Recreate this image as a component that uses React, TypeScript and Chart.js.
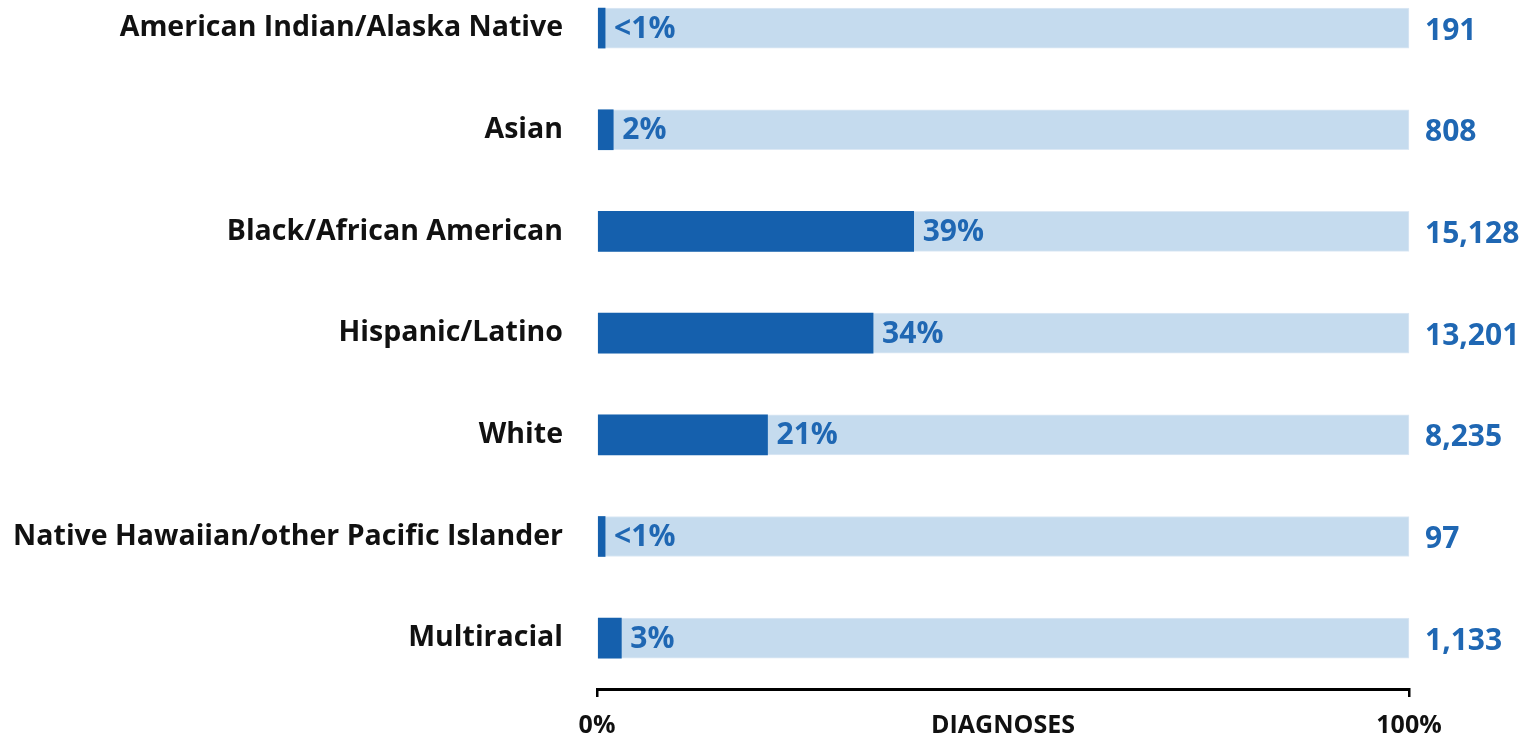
import React, { useEffect, useRef } from "react";
import { Chart, registerables } from "chart.js";

Chart.register(...registerables);

const categories = [
  "American Indian/Alaska Native",
  "Asian",
  "Black/African American",
  "Hispanic/Latino",
  "White",
  "Native Hawaiian/other Pacific Islander",
  "Multiracial",
];
const percentShares = [1, 2, 39, 34, 21, 1, 3];
const percentLabels = ["<1%", "2%", "39%", "34%", "21%", "<1%", "3%"];
const diagnoses = [191, 808, 15128, 13201, 8235, 97, 1133];
const fullScale = [100, 100, 100, 100, 100, 100, 100];
const xTickValues = [0, 50, 100];
const xTickLabels = ["0%", "DIAGNOSES", "100%"];

const FONT = "'Open Sans', sans-serif";
const DARK = "#1560AD";
const LIGHT = "#C5DBEE";
const TEXT_BLUE = "#1F67B3";

const labelPlugin = {
  id: "barLabels",
  afterDatasetsDraw(chart: any) {
    const ctx = chart.ctx;
    const xs = chart.scales.x;
    const ys = chart.scales.y;
    ctx.save();
    ctx.font = `bold 30px ${FONT}`;
    ctx.fillStyle = TEXT_BLUE;
    ctx.textBaseline = "middle";
    ctx.textAlign = "left";
    categories.forEach((_, i) => {
      const y = ys.getPixelForValue(i);
      const xEnd = xs.getPixelForValue(percentShares[i]);
      ctx.fillText(percentLabels[i], xEnd + 9, y + 1);
      ctx.fillText(diagnoses[i].toLocaleString("en-US"), chart.chartArea.right + 16, y + 3);
    });
    ctx.restore();
  },
};

export default function App() {
  const ref = useRef<HTMLCanvasElement | null>(null);
  useEffect(() => {
    if (!ref.current) return;
    const chart = new Chart(ref.current, {
      type: "bar",
      data: {
        datasets: [
          {
            label: "Share",
            data: percentShares.map((v, i) => ({ x: v, y: i })),
            backgroundColor: DARK,
            barThickness: 40,
            grouped: false,
            clip: false,
          } as any,
          {
            label: "Total",
            data: fullScale.map((v, i) => ({ x: v, y: i })),
            backgroundColor: LIGHT,
            borderColor: "#DCE8F4",
            borderWidth: 1,
            barThickness: 40,
            grouped: false,
            clip: false,
          } as any,
        ],
      },
      plugins: [labelPlugin],
      options: {
        indexAxis: "y",
        responsive: false,
        animation: false,
        layout: { padding: { top: 0, right: 114, bottom: 0, left: 0 } },
        plugins: { legend: { display: false }, tooltip: { enabled: false } },
        scales: {
          y: {
            type: "linear",
            reverse: true,
            offset: false,
            min: -0.108,
            max: 6.5,
            grid: { display: false, drawTicks: true, tickLength: 34, offset: false },
            border: { display: false },
            afterBuildTicks: (scale: any) => {
              scale.ticks = categories.map((_, i) => ({ value: i }));
            },
            afterFit: (scale: any) => {
              scale.width = 597;
            },
            ticks: {
              padding: 0,
              autoSkip: false,
              font: { family: FONT, size: 28.5, weight: "bold" },
              color: "#111111",
              callback: (v: any) => categories[v as number],
            },
          },
          x: {
            type: "linear",
            min: 0,
            max: 100,
            afterBuildTicks: (scale: any) => {
              scale.ticks = xTickValues.map((v) => ({ value: v }));
            },
            afterFit: (scale: any) => {
              scale.height = 45;
            },
            grid: {
              drawOnChartArea: false,
              drawTicks: true,
              tickLength: 8,
              lineWidth: 2.5,
              color: (c: any) => (c.tick && c.tick.value === 50 ? "rgba(0,0,0,0)" : "#000000"),
            },
            border: { display: true, color: "#000000", width: 3 },
            ticks: {
              padding: 14,
              autoSkip: false,
              maxRotation: 0,
              font: { family: FONT, size: 25, weight: "bold" },
              color: "#111111",
              callback: (_v: any, i: number) => xTickLabels[i],
            },
          },
        },
      } as any,
    });
    return () => chart.destroy();
  }, []);
  return (
    <div style={{ position: "fixed", left: 0, top: 0, width: 1523, height: 734, background: "#fff" }}>
      <canvas ref={ref} width={1523} height={734} style={{ display: "block" }} />
    </div>
  );
}
